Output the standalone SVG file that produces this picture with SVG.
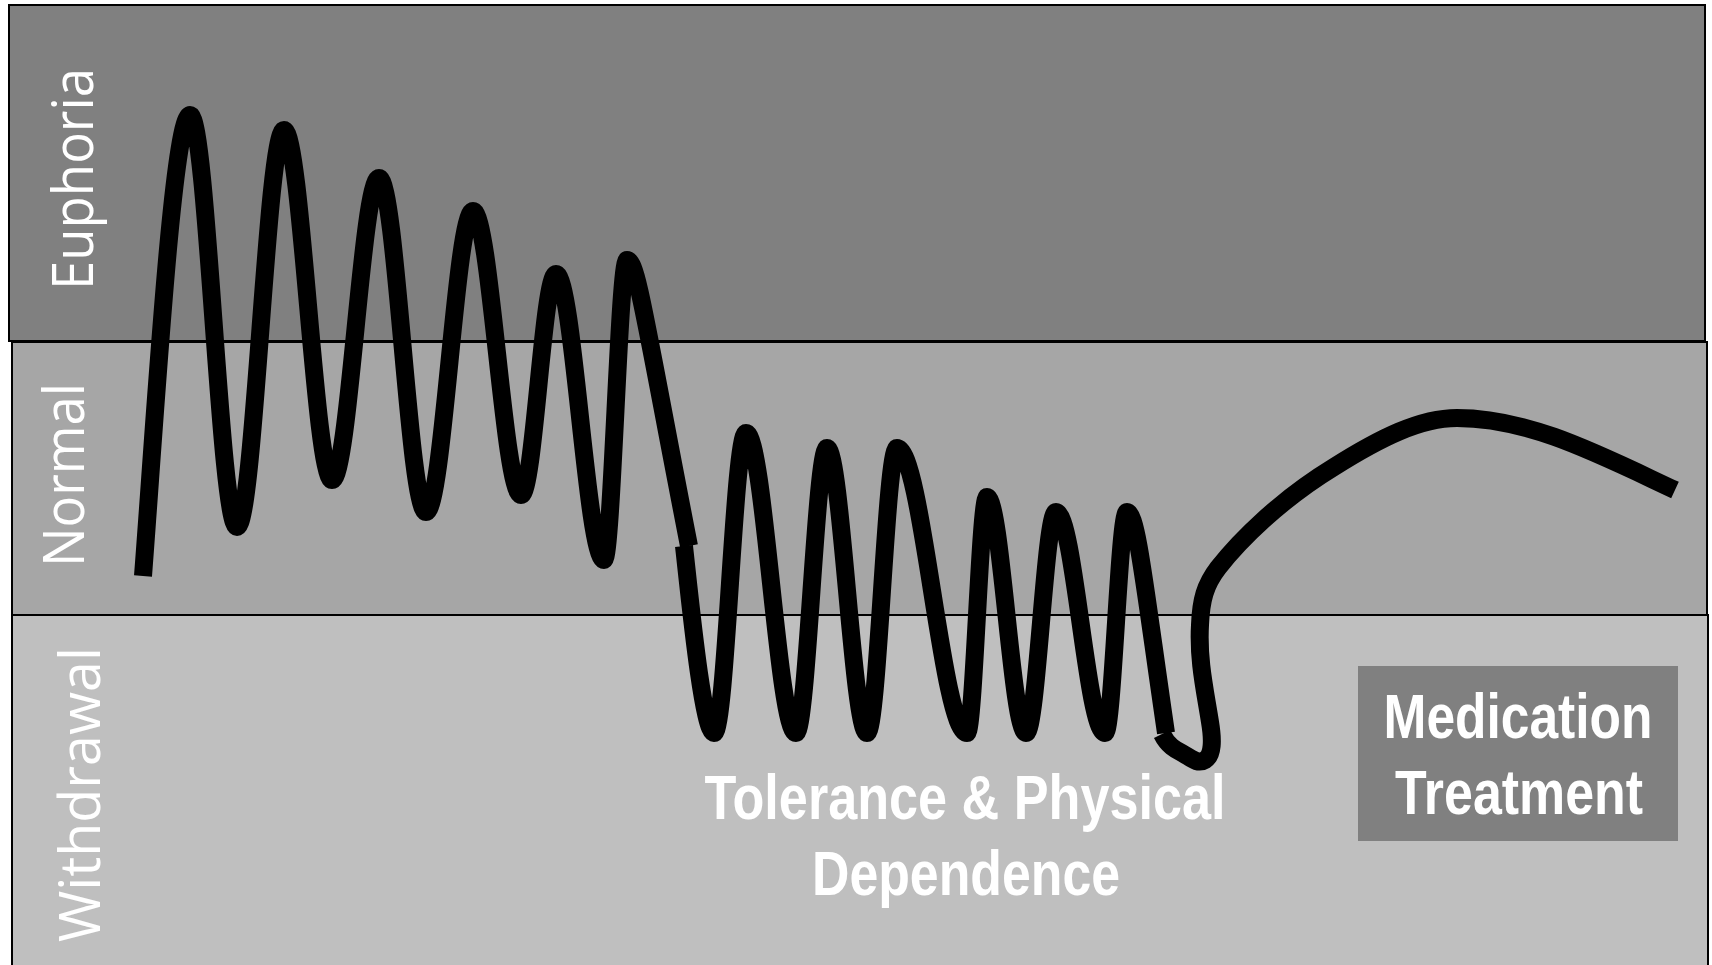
<svg xmlns="http://www.w3.org/2000/svg" width="1712" height="965" viewBox="0 0 1712 965">
<style>
.band{stroke:#000;stroke-width:2}
.lbl{font-family:"Open Sans","Noto Sans",sans-serif;font-size:57px;fill:#fff}
.big{font-family:"Liberation Sans Narrow","Liberation Sans",Arial,sans-serif;font-weight:bold;font-size:63px;fill:#fff;text-anchor:middle}
.curve{fill:none;stroke:#000;stroke-width:18;stroke-linecap:butt;stroke-linejoin:round}
</style>
<rect width="1712" height="965" fill="#fff"/>
<g id="band-euphoria">
<rect class="band" x="9" y="5" width="1696" height="336" fill="#808080"/>
<text class="lbl" transform="translate(93,290) rotate(-90)" textLength="222" lengthAdjust="spacingAndGlyphs">Euphoria</text>
</g>
<g id="band-normal">
<rect class="band" x="12" y="342" width="1695" height="273" fill="#a6a6a6"/>
<text class="lbl" transform="translate(84,567) rotate(-90)" textLength="184" lengthAdjust="spacingAndGlyphs">Normal</text>
</g>
<g id="band-withdrawal">
<rect class="band" x="12" y="615" width="1696" height="360" fill="#bfbfbf"/>
<text class="lbl" transform="translate(100,942) rotate(-90)" textLength="295" lengthAdjust="spacingAndGlyphs">Withdrawal</text>
</g>
<g id="connectors">
<path class="curve" d="M143,576 C155,420 173,115 190,115 C207,115 220,527 237,527 C254,527 267,130 284,130 C301,130 315,480 332,480 C349,480 362,178 379,178 C396,178 409,512 426,512 C443,512 456,211 473,211 C490,211 504,495 521,495 C534,495 543,274 556,274 C573,274 587,560 604,560 C612,560 619,260 627,260 C637,260 645,320 689,546"/>
<path class="curve" d="M684,546 C690,600 703,733 714,733 C726,733 734,433 746,433 C764,433 778,733 796,733 C807,733 816,448 827,448 C841,448 853,733 867,733 C878,733 886,448 897,448 C922,448 942,733 967,733 C974,733 980,497 987,497 C1001,497 1012,733 1026,733 C1037,733 1045,512 1056,512 C1074,512 1087,733 1105,733 C1113,733 1119,512 1127,512 C1137,512 1145,590 1166,733"/>
<path class="curve" d="M1162,734 C1168,746 1176,750 1182,753 C1190,757 1197,765 1205,760 C1213,755 1213,740 1210,722 C1205,690 1198,660 1200,625 C1201,600 1205,585 1218,568 C1240,540 1280,500 1334,467 C1380,438 1420,418 1457,418 C1530,418 1600,455 1675,490"/>
</g>
<g id="label-tolerance">
<text class="big" x="965" y="819" textLength="521" lengthAdjust="spacingAndGlyphs">Tolerance &amp; Physical</text>
<text class="big" x="966" y="895" textLength="308" lengthAdjust="spacingAndGlyphs">Dependence</text>
</g>
<g id="node-medication">
<rect x="1358" y="666" width="320" height="175" fill="#808080"/>
<text class="big" x="1518" y="738" textLength="269" lengthAdjust="spacingAndGlyphs">Medication</text>
<text class="big" x="1519" y="814" textLength="248" lengthAdjust="spacingAndGlyphs">Treatment</text>
</g>
</svg>
